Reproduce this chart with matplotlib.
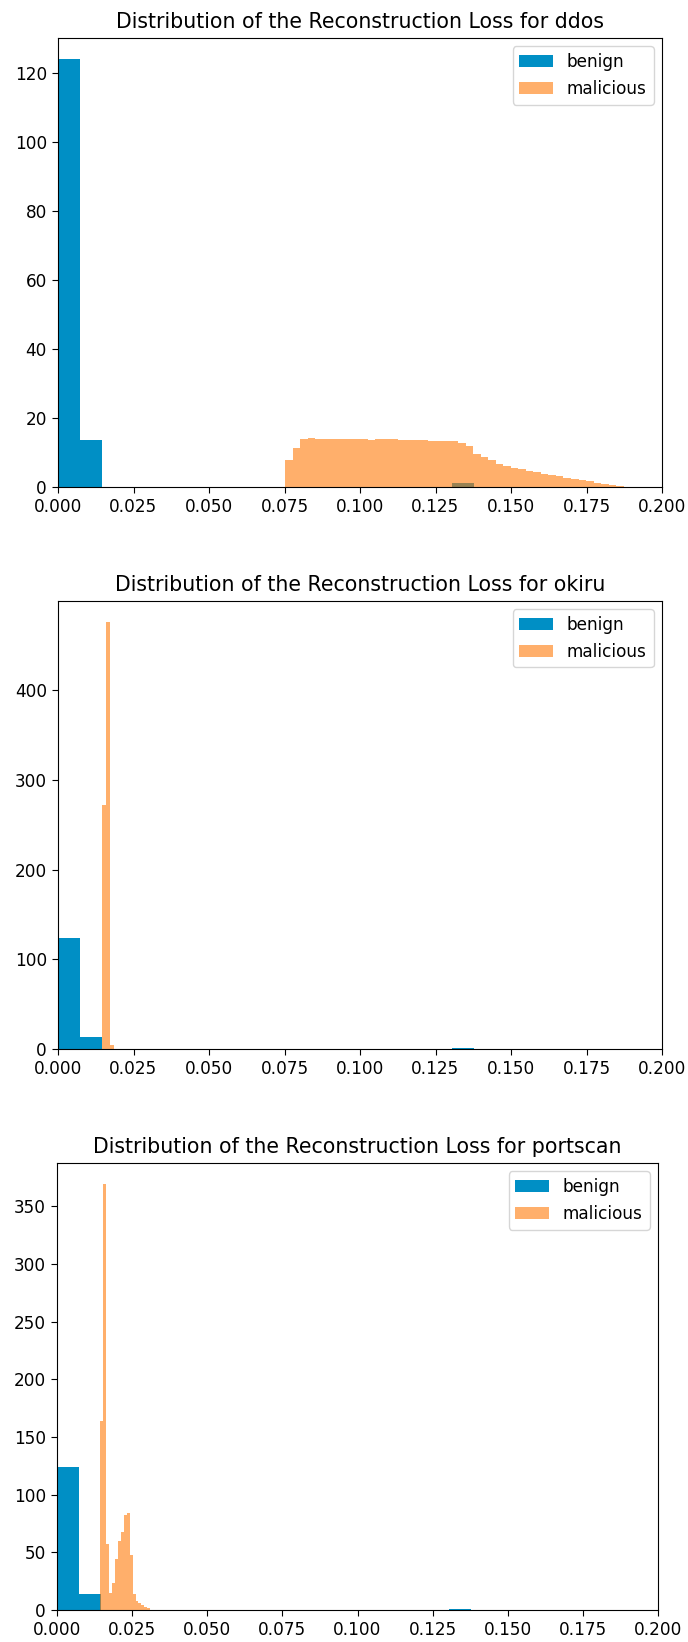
import matplotlib
matplotlib.use('Agg')
import matplotlib.pyplot as plt
import numpy as np

W, H = 688, 1642

attacks = ['ddos', 'okiru', 'portscan']

# benign reconstruction loss histogram (density), same for every panel
benign_range = (0.0, 0.145)
benign_density = [124, 13.5, 0, 0, 0, 0, 0, 0, 0, 0,
                  0, 0, 0, 0, 0, 0, 0, 0, 1.2, 0]

# malicious histograms (density)
ddos_range = (0.0752, 0.1873)
ddos_density = [7.7, 11.3, 13.8, 14.2, 13.9, 13.9, 13.9, 13.9, 13.9, 13.9,
                13.9, 13.6, 13.9, 13.9, 13.9, 13.6, 13.6, 13.6, 13.6, 13.3,
                13.3, 13.3, 13.3, 12.8, 11.9, 9.7, 8.7, 7.7, 6.6, 6.0,
                5.6, 5.1, 4.7, 4.3, 3.9, 3.5, 3.1, 2.7, 2.3, 2.0,
                1.7, 1.3, 0.9, 0.6, 0.3]

okiru_range = (0.0145, 0.0184)
okiru_density = [272, 476, 4]

portscan_range = (0.01445, 0.031)
portscan_density = [164, 369, 57, 15, 23, 44, 60, 68, 82, 84,
                    48, 14, 8, 5.8, 4.3, 2.9, 1.7]

malicious = {
    'ddos': (ddos_range, ddos_density),
    'okiru': (okiru_range, okiru_density),
    'portscan': (portscan_range, portscan_density),
}

xticks = [0.0, 0.025, 0.05, 0.075, 0.1, 0.125, 0.15, 0.175, 0.2]

# axes boxes in pixels: left, right, top, bottom
boxes = [(58, 662, 38, 487), (58, 662, 601, 1049), (57, 658, 1163, 1610)]

BLUE = '#008fc5'
ORANGE = '#ff7a08'
FS = 12.2

fig = plt.figure(figsize=(W / 100, H / 100), dpi=100)


def hist_from(ax, rng, dens, **kw):
    edges = np.linspace(rng[0], rng[1], len(dens) + 1)
    ax.hist(edges[:-1], bins=edges, weights=dens, **kw)


for name, (l, r, t, b) in zip(attacks, boxes):
    ax = fig.add_axes([l / W, 1 - b / H, (r - l) / W, (b - t) / H])
    hist_from(ax, benign_range, benign_density, color=BLUE, label='benign')
    rng, dens = malicious[name]
    hist_from(ax, rng, dens, color=ORANGE, alpha=0.6, label='malicious')
    ax.set_xlim(0, 0.2)
    ax.set_xticks(xticks)
    ax.tick_params(labelsize=FS, length=4.5)
    ax.set_title('Distribution of the Reconstruction Loss for ' + name,
                 fontsize=14.8, pad=7)
    ax.legend(fontsize=FS, loc='upper right')

fig.savefig('out.png', dpi=100)
